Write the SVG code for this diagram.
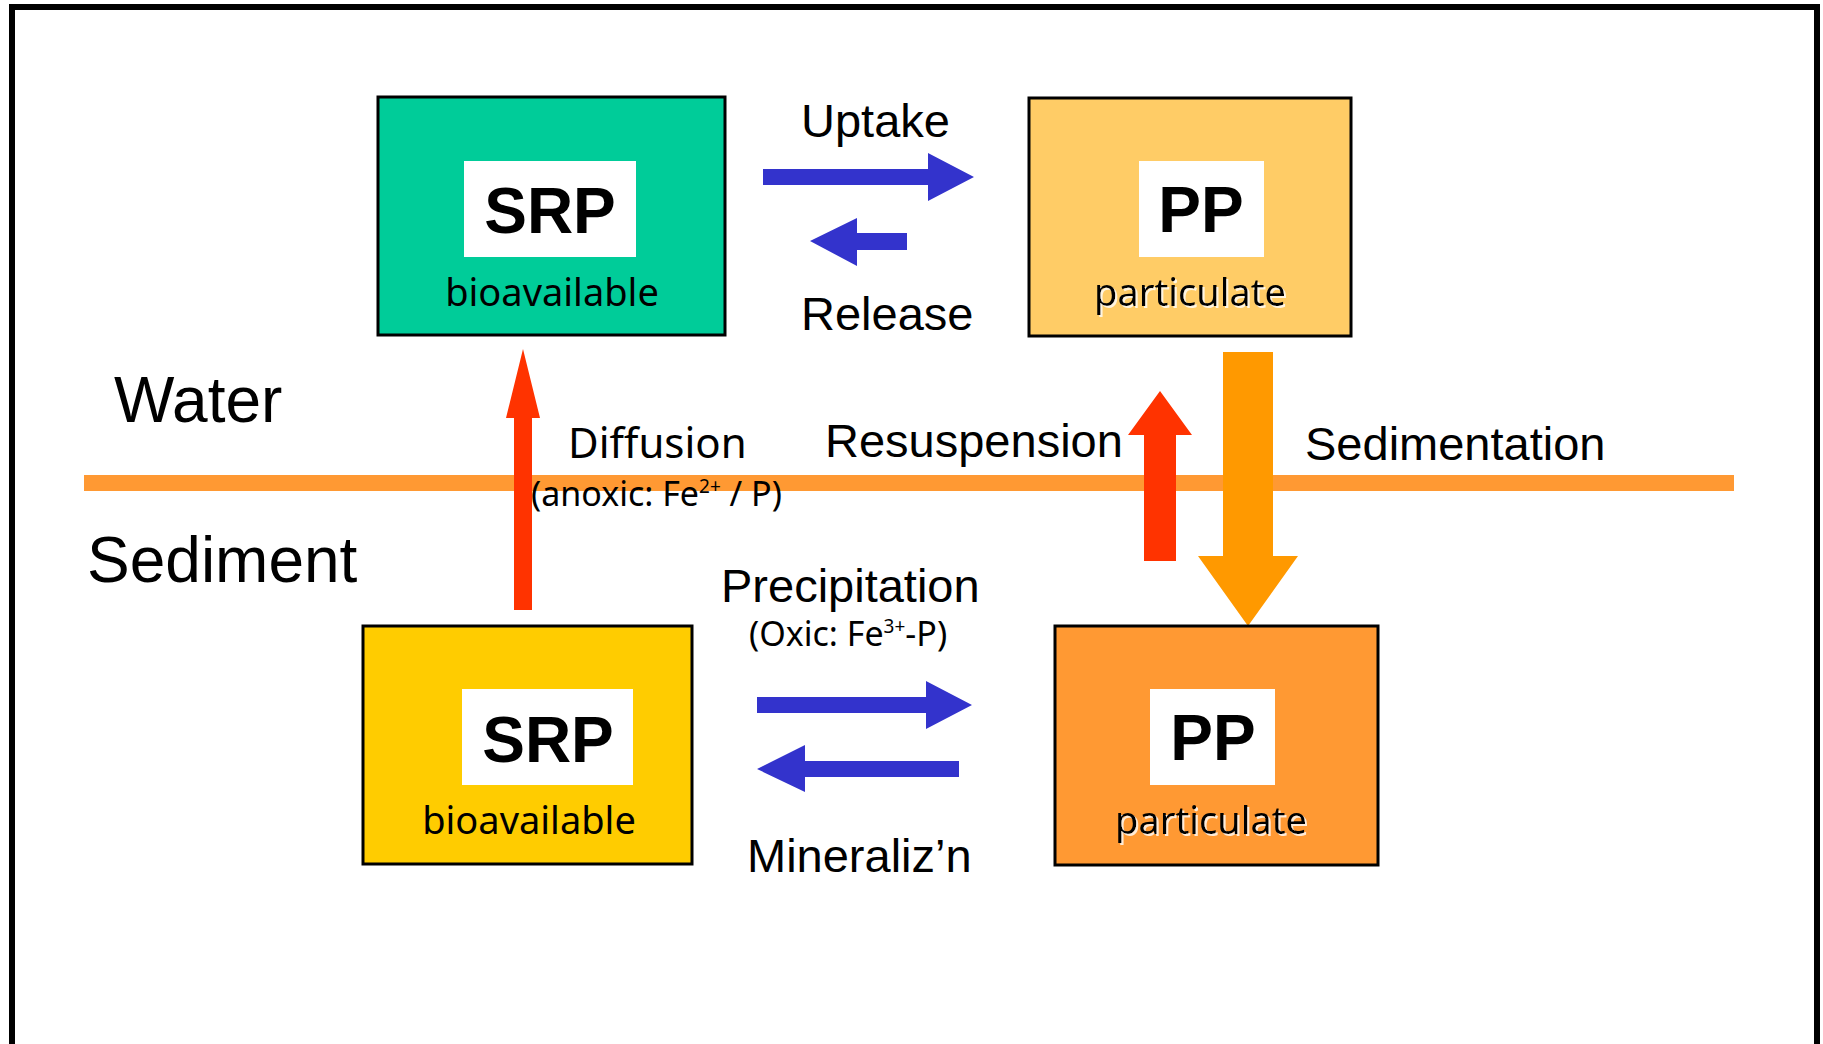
<svg xmlns="http://www.w3.org/2000/svg" width="1823" height="1044" viewBox="0 0 1823 1044">
<style>
.box{stroke:#000;stroke-width:3}
.inner{fill:#fff}
.big{font-family:"Liberation Sans",Arial,sans-serif;font-weight:bold;font-size:64px;text-anchor:middle;fill:#000}
.sub{font-family:"Noto Sans","Open Sans",sans-serif;font-size:38px;text-anchor:middle;fill:#000}
.lbl{font-family:"Liberation Sans",Arial,sans-serif;font-size:47px;fill:#000}
.zone{font-family:"Liberation Sans",Arial,sans-serif;font-size:64px;fill:#000}
.note{font-family:"Noto Sans","Open Sans",sans-serif;font-size:34px;fill:#000}
.blue{fill:#3333CC}
.red{fill:#FF3300}
</style>
<defs>
<filter id="sh" x="-10%" y="-20%" width="130%" height="150%">
<feDropShadow dx="2" dy="2" stdDeviation="0.6" flood-color="#fff" flood-opacity="0.8"/>
</filter>
</defs>
<rect x="0" y="0" width="1823" height="1044" fill="#fff"/>
<rect x="12" y="7" width="1805" height="1100" fill="none" stroke="#000" stroke-width="6"/>
<rect id="interface" x="84" y="475" width="1650" height="16" fill="#FF9933"/>
<text class="zone" x="114" y="422">Water</text>
<text class="zone" x="87" y="582">Sediment</text>

<g id="connectors">
<path class="blue" d="M763,169 H928 V153 L974,177 L928,201 V185 H763 Z"/>
<path class="blue" d="M810,241 L857,218 V233 H907 V250 H857 V266 Z"/>
<path class="red" d="M514,610 V418 H506 L523,349 L540,418 H532 V610 Z"/>
<path class="red" d="M1144,561 V435 H1128 L1160,391 L1192,435 H1176 V561 Z"/>
<path fill="#FF9900" d="M1223,352 H1273 V556 H1298 L1248,626 L1198,556 H1223 Z"/>
<path class="blue" d="M757,697 H926 V681 L972,705 L926,729 V713 H757 Z"/>
<path class="blue" d="M757,769 L805,745 V761 H959 V777 H805 V792 Z"/>
<text class="lbl" x="801" y="137">Uptake</text>
<text class="lbl" x="801" y="330">Release</text>
<text class="note" x="568" y="458" style="font-size:42px">Diffusion</text>
<text class="note" x="531" y="506">(anoxic: Fe<tspan font-size="19" dy="-13">2+</tspan><tspan dy="13"> / P)</tspan></text>
<text class="lbl" x="825" y="457">Resuspension</text>
<text class="lbl" x="1305" y="460">Sedimentation</text>
<text class="lbl" x="721" y="602">Precipitation</text>
<text class="note" x="749" y="646">(Oxic: Fe<tspan font-size="19" dy="-13">3+</tspan><tspan dy="13">-P)</tspan></text>
<text class="lbl" x="747" y="872">Mineraliz’n</text>
</g>

<g id="srp-water">
<rect class="box" x="378" y="97" width="347" height="238" fill="#00CC99"/>
<rect class="inner" x="464" y="161" width="172" height="96"/>
<text class="big" x="550" y="233">SRP</text>
<text class="sub" x="552" y="306">bioavailable</text>
</g>

<g id="pp-water">
<rect class="box" x="1029" y="98" width="322" height="238" fill="#FFCC66"/>
<rect class="inner" x="1139" y="161" width="125" height="96"/>
<text class="big" x="1201" y="232">PP</text>
<text class="sub" x="1190" y="306" filter="url(#sh)">particulate</text>
</g>

<g id="srp-sediment">
<rect class="box" x="363" y="626" width="329" height="238" fill="#FFCC00"/>
<rect class="inner" x="462" y="689" width="171" height="96"/>
<text class="big" x="548" y="762">SRP</text>
<text class="sub" x="529" y="834">bioavailable</text>
</g>

<g id="pp-sediment">
<rect class="box" x="1055" y="626" width="323" height="239" fill="#FF9933"/>
<rect class="inner" x="1150" y="689" width="125" height="96"/>
<text class="big" x="1213" y="760">PP</text>
<text class="sub" x="1211" y="834" filter="url(#sh)">particulate</text>
</g>
</svg>
